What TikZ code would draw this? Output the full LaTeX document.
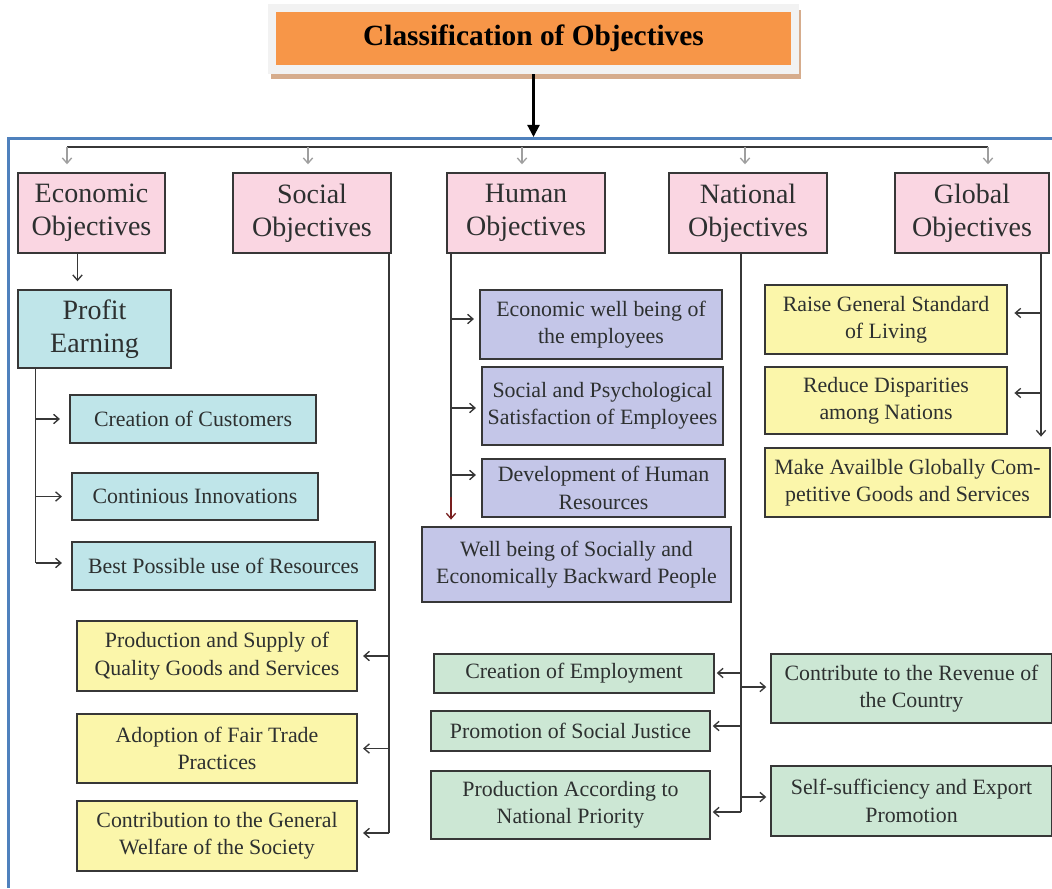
\documentclass[tikz,border=0pt]{standalone}
\usepackage{fontspec}
\setmainfont{Liberation Serif}
\usetikzlibrary{arrows.meta}
\definecolor{pinkc}{RGB}{250,214,226}
\definecolor{cyanc}{RGB}{191,229,233}
\definecolor{lavc}{RGB}{196,198,232}
\definecolor{yelc}{RGB}{251,246,170}
\definecolor{grnc}{RGB}{204,231,212}
\definecolor{orgc}{RGB}{247,150,72}
\definecolor{framec}{RGB}{242,242,242}
\definecolor{shadc}{RGB}{214,172,140}
\definecolor{bluec}{RGB}{79,129,189}
\definecolor{edgec}{RGB}{55,55,55}
\definecolor{txtc}{RGB}{45,48,48}
\definecolor{redc}{RGB}{120,30,30}
\newcommand\mybox[7]{\node[#2, minimum width={(#5-#3)*0.75pt}, minimum height={(#6-#4)*0.75pt}] (#1) at ({(#3+#5)/2},{(#4+#6)/2}) {#7};}
\tikzset{
  box/.style={draw=edgec, line width=1.1pt, text=txtc, align=center, inner sep=0pt},
  head/.style={box, fill=pinkc, font=\fontsize{21}{24.75}\selectfont},
  prof/.style={box, fill=cyanc, font=\fontsize{21}{24.75}\selectfont},
  cy/.style={box, fill=cyanc, font=\fontsize{16.4}{20.5}\selectfont},
  lav/.style={box, fill=lavc, font=\fontsize{16.4}{20.5}\selectfont},
  yel/.style={box, fill=yelc, font=\fontsize{16.4}{20.5}\selectfont},
  grn/.style={box, fill=grnc, font=\fontsize{16.4}{20.5}\selectfont},
  ln/.style={draw=edgec, line width=1pt},
  arr/.style={ln, -{Straight Barb[length=4pt,width=7pt]}, shorten >=4pt},
  garr/.style={draw=gray!75, line width=1pt, -{Straight Barb[length=4pt,width=7pt]}, shorten >=6pt},
}
\begin{document}
\begin{tikzpicture}[x=0.75pt, y=-0.75pt]
\useasboundingbox (0,0) rectangle (1052,888);
\fill[white] (0,0) rectangle (1052,888);
% title
\fill[shadc] (271,10) rectangle (801,79);
\mybox{tframe}{draw=none, fill=framec, inner sep=0pt}{268}{4}{799}{74}{}
\mybox{title}{fill=orgc, inner sep=0pt, text=black, font=\bfseries\fontsize{22}{26}\selectfont}{276}{12}{791}{65}{Classification of Objectives}
% blue frame
\draw[bluec, line width=1.6pt] (1052,138.5) -- (8.5,138.5) -- (8.5,888);
\coordinate (bartop) at (533.5,137);
\draw[line width=1.6pt, -{Triangle[length=9pt,width=9pt]}] (tframe.south) -- (bartop);
% headers
\mybox{eco}{head}{18}{173}{165}{253}{Economic\\Objectives}
\mybox{soc}{head}{233}{173}{391}{253}{Social\\Objectives}
\mybox{hum}{head}{447}{173}{605}{253}{Human\\Objectives}
\mybox{nat}{head}{669}{173}{827}{253}{National\\Objectives}
\mybox{glo}{head}{895}{173}{1049}{253}{Global\\Objectives}
% top bar
\coordinate (b1) at (67,147);
\coordinate (b2) at (308,147);
\coordinate (b3) at (522,147);
\coordinate (b4) at (745,147);
\coordinate (b5) at (988,147);
\draw[ln] (b1) -- (b5);
\draw[garr] (b1) -- (b1 |- eco.north);
\draw[garr] (b2) -- (b2 |- soc.north);
\draw[garr] (b3) -- (b3 |- hum.north);
\draw[garr] (b4) -- (b4 |- nat.north);
\draw[garr] (b5) -- (b5 |- glo.north);
% economic
\mybox{pe}{prof}{18}{290}{171}{368}{Profit\\Earning}
\coordinate (ep) at (77.5,253);
\draw[arr, shorten >=6pt] (ep) -- (ep |- pe.north);
\mybox{cc}{cy}{70}{395}{316}{443}{Creation of Customers}
\mybox{ci}{cy}{72}{473}{318}{520}{Continious Innovations}
\mybox{bp}{cy}{72}{542}{375}{590}{Best Possible use of Resources}
\coordinate (ps) at (35.5,563);
\draw[ln] (ps |- pe.south) -- (ps);
\draw[arr, shorten >=7pt] (ps |- cc.west) -- (cc.west);
\draw[arr, shorten >=7pt] (ps |- ci.west) -- (ci.west);
\draw[arr, shorten >=7pt] (ps) -- (ps -| bp.west);
% social
\mybox{pq}{yel}{77}{621}{357}{691}{Production and Supply of\\Quality Goods and Services}
\mybox{af}{yel}{77}{714}{357}{783}{Adoption of Fair Trade\\Practices}
\mybox{cw}{yel}{77}{801}{357}{871}{Contribution to the General\\Welfare of the Society}
\coordinate (ss) at (389,833);
\draw[ln] (ss |- soc.south) -- (ss);
\draw[arr] (ss |- pq.east) -- (pq.east);
\draw[arr] (ss |- af.east) -- (af.east);
\draw[arr] (ss) -- (ss -| cw.east);
% human
\mybox{ew}{lav}{480}{290}{722}{359}{Economic well being of\\the employees}
\mybox{sp}{lav}{482}{367}{723}{445}{Social and Psychological\\Satisfaction of Employees}
\mybox{dh}{lav}{482}{459}{725}{517}{Development of Human\\Resources}
\mybox{wb}{lav}{422}{527}{731}{602}{Well being of Socially and\\Economically Backward People}
\coordinate (h1) at (451,319);
\coordinate (h2) at (451,408);
\coordinate (h3) at (451,475);
\coordinate (hr) at (451,497);
\draw[ln] (hr |- hum.south) -- (hr);
\draw[arr] (h1) -- (h1 -| ew.west);
\draw[arr] (h2) -- (h2 -| sp.west);
\draw[arr] (h3) -- (h3 -| dh.west);
\draw[ln, draw=redc, -{Straight Barb[length=4pt,width=7pt]}, shorten >=5pt] (hr) -- (hr |- wb.north);
% national
\mybox{ce}{grn}{434}{654}{714}{693}{Creation of Employment}
\mybox{pj}{grn}{431}{711}{710}{751}{Promotion of Social Justice}
\mybox{pn}{grn}{431}{771}{710}{839}{Production According to\\National Priority}
\mybox{cr}{grn}{771}{654}{1052}{723}{Contribute to the Revenue of\\the Country}
\mybox{se}{grn}{771}{766}{1052}{836}{Self-sufficiency and Export\\Promotion}
\coordinate (n1) at (741,673);
\coordinate (n2) at (741,687);
\coordinate (n3) at (741,726);
\coordinate (n4) at (741,797);
\coordinate (n5) at (741,812);
\draw[ln] (n5 |- nat.south) -- (n5);
\draw[arr, shorten >=1.5pt] (n1) -- (n1 -| ce.east);
\draw[arr, shorten >=3pt] (n2) -- (n2 -| cr.west);
\draw[arr, shorten >=1.5pt] (n3) -- (n3 -| pj.east);
\draw[arr, shorten >=3pt] (n4) -- (n4 -| se.west);
\draw[arr, shorten >=1.5pt] (n5) -- (n5 -| pn.east);
% global
\mybox{rs}{yel}{765}{285}{1007}{354}{Raise General Standard\\of Living}
\mybox{rd}{yel}{765}{367}{1007}{434}{Reduce Disparities\\among Nations}
\mybox{mk}{yel}{765}{448}{1050}{517}{Make Availble Globally Com-\\petitive Goods and Services}
\coordinate (g1) at (1041,313);
\coordinate (g2) at (1041,393);
\draw[ln, -{Straight Barb[length=4pt,width=7pt]}, shorten >=8pt] (g1 |- glo.south) -- (g1 |- mk.north);
\draw[arr, shorten >=5pt] (g1) -- (g1 -| rs.east);
\draw[arr, shorten >=5pt] (g2) -- (g2 -| rd.east);
\end{tikzpicture}
\end{document}
